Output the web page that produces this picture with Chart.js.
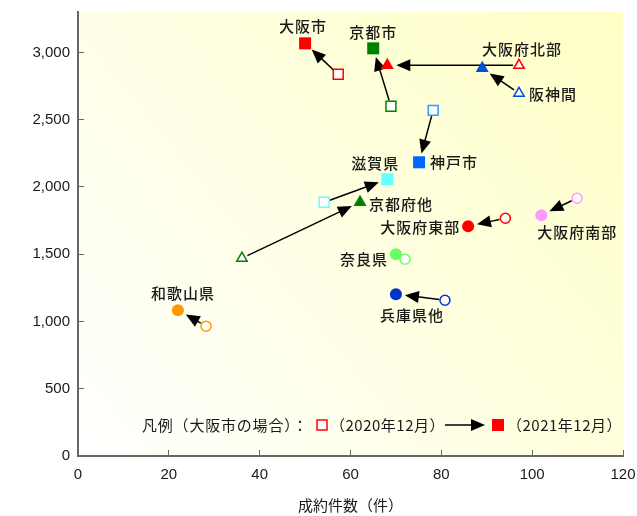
<!DOCTYPE html>
<html>
<head>
<meta charset="utf-8">
<script src="https://cdn.jsdelivr.net/npm/chart.js@4/dist/chart.umd.min.js"></script>
<style>
html, body { margin: 0; padding: 0; background: #fff; }
#wrap { width: 637px; height: 516px; }
</style>
</head>
<body>
<div id="wrap"><canvas id="c"></canvas></div>
<script>
// data
var areas = ['大阪市', '京都市', '大阪府北部', '阪神間', '神戸市', '滋賀県', '京都府他', '大阪府東部', '大阪府南部', '奈良県', '兵庫県他', '和歌山県'];
var x2020 = [57.3, 68.9, 97.1, 97.1, 78.2, 54.2, 36.1, 94.1, 109.9, 72.0, 80.8, 28.2];
var y2020 = [2837, 2599, 2904, 2696, 2569, 1886, 1470, 1767, 1916, 1463, 1158, 965];
var x2021 = [50.0, 65.0, 68.1, 89.0, 75.1, 68.1, 62.1, 85.9, 102.0, 70.0, 70.0, 22.0];
var y2021 = [3067, 3030, 2904, 2881, 2183, 2057, 1886, 1708, 1790, 1500, 1203, 1084];
var xTicks = [0, 20, 40, 60, 80, 100, 120];
var yTicks = [0, 500, 1000, 1500, 2000, 2500, 3000];

// styles
var shapes = ['rect', 'rect', 'triangle', 'triangle', 'rect', 'rect', 'triangle', 'circle', 'circle', 'circle', 'circle', 'circle'];
var fillColors = ['#ff0000', '#008000', '#ff0000', '#0050dc', '#0066ff', '#66ffff', '#008000', '#ff0000', '#ff99ff', '#66ff66', '#0033cc', '#ff9900'];
var openColors = ['#ff0000', '#008000', '#ff0000', '#0050dc', '#3399ff', '#66ffff', '#008000', '#ff0000', '#ff99ff', '#66ff66', '#0033cc', '#ff9900'];
// label placement: [which point (0=2020,1=2021), dx, dy, align]
var labelPos = [
    [1, -2, -17, 'center'],
    [1, 0, -16, 'center'],
    [0, 3, -16, 'center'],
    [0, 10, 1, 'left'],
    [1, 11, 0, 'left'],
    [1, -12, -16, 'center'],
    [1, 9, 2, 'left'],
    [1, -8, 1, 'right'],
    [1, -4, 17, 'left'],
    [1, -8, 5, 'right'],
    [1, 16, 21, 'center'],
    [1, 5, -17, 'center']
];

var jpFont = '"Noto Sans CJK JP", "Noto Sans", sans-serif';

function radiusFor(shape, filled) {
    if (shape == 'rect') return filled ? 8.5 : 7;
    if (shape == 'triangle') return filled ? 7.5 : 6;
    return filled ? 6 : 5;
}

function pts(xs, ys) {
    let out = [];
    for (let i = 0; i < xs.length; i++) out.push({ x: xs[i], y: ys[i] });
    return out;
}

function drawArrow(ctx, x0, y0, x1, y1, gap0, gap1) {
    let dx = x1 - x0, dy = y1 - y0;
    let len = Math.sqrt(dx * dx + dy * dy);
    let ux = dx / len, uy = dy / len;
    let sx = x0 + ux * gap0, sy = y0 + uy * gap0;
    let tx = x1 - ux * gap1, ty = y1 - uy * gap1;
    let hl = 14, hw = 6;
    let bx = tx - ux * hl, by = ty - uy * hl;
    ctx.beginPath();
    ctx.moveTo(sx, sy);
    ctx.lineTo(bx + ux, by + uy);
    ctx.stroke();
    ctx.beginPath();
    ctx.moveTo(tx, ty);
    ctx.lineTo(bx - uy * hw, by + ux * hw);
    ctx.lineTo(bx + uy * hw, by - ux * hw);
    ctx.closePath();
    ctx.fill();
}

var bgPlugin = {
    id: 'bg',
    beforeDraw: function(chart) {
        let a = chart.chartArea, ctx = chart.ctx;
        let g = ctx.createLinearGradient(a.left, a.bottom, a.right, a.top);
        g.addColorStop(0, '#ffffff');
        g.addColorStop(1, '#ffffc6');
        ctx.save();
        ctx.fillStyle = g;
        ctx.fillRect(a.left, a.top, a.right - a.left, a.bottom - a.top);
        ctx.restore();
    }
};

var arrowPlugin = {
    id: 'arrows',
    beforeDatasetsDraw: function(chart) {
        let ctx = chart.ctx, xs = chart.scales.x, ys = chart.scales.y;
        ctx.save();
        ctx.strokeStyle = '#000';
        ctx.fillStyle = '#000';
        ctx.lineWidth = 1.5;
        for (let i = 0; i < areas.length; i++) {
            let x0 = xs.getPixelForValue(x2020[i]), y0 = ys.getPixelForValue(y2020[i]);
            let x1 = xs.getPixelForValue(x2021[i]), y1 = ys.getPixelForValue(y2021[i]);
            // points too close together get no arrow
            if (Math.hypot(x1 - x0, y1 - y0) < 25) continue;
            drawArrow(ctx, x0, y0, x1, y1, 6, 9);
        }
        ctx.restore();
    }
};

var labelPlugin = {
    id: 'labels',
    afterDatasetsDraw: function(chart) {
        let ctx = chart.ctx, xs = chart.scales.x, ys = chart.scales.y;
        ctx.save();
        ctx.font = '500 15px ' + jpFont;
        ctx.letterSpacing = '1px';
        ctx.fillStyle = '#1a1a1a';
        ctx.textBaseline = 'middle';
        for (let i = 0; i < areas.length; i++) {
            let lp = labelPos[i];
            let px = lp[0] ? xs.getPixelForValue(x2021[i]) : xs.getPixelForValue(x2020[i]);
            let py = lp[0] ? ys.getPixelForValue(y2021[i]) : ys.getPixelForValue(y2020[i]);
            ctx.textAlign = lp[3];
            ctx.fillText(areas[i], px + lp[1], py + lp[2]);
        }

        // legend line
        let ly = 425;
        ctx.textAlign = 'left';
        ctx.letterSpacing = '0.8px';
        ctx.font = '15px ' + jpFont;
        ctx.fillText('凡例（大阪市の場合）：', 142, ly);
        ctx.fillStyle = '#fff';
        ctx.strokeStyle = '#ff0000';
        ctx.lineWidth = 1.5;
        ctx.fillRect(317, ly - 5, 10, 10);
        ctx.strokeRect(317, ly - 5, 10, 10);
        ctx.fillStyle = '#1a1a1a';
        ctx.letterSpacing = '0.5px';
        ctx.fillText('（2020年12月）', 330, ly);
        ctx.strokeStyle = '#000';
        ctx.fillStyle = '#000';
        drawArrow(ctx, 445, ly, 485, ly, 0, 0);
        ctx.fillStyle = '#ff0000';
        ctx.fillRect(492, ly - 6, 12, 12);
        ctx.fillStyle = '#1a1a1a';
        ctx.fillText('（2021年12月）', 507, ly);
        ctx.restore();
    }
};

var ctx = document.getElementById('c').getContext('2d');
var chart = new Chart(ctx, {
    type: 'scatter',
    data: {
        datasets: [{
            label: '2020年12月',
            data: pts(x2020, y2020),
            pointStyle: shapes,
            pointRadius: shapes.map(s => radiusFor(s, false)),
            pointBackgroundColor: '#ffffff',
            pointBorderColor: openColors,
            pointBorderWidth: 1.5
        }, {
            label: '2021年12月',
            data: pts(x2021, y2021),
            pointStyle: shapes,
            pointRadius: shapes.map(s => radiusFor(s, true)),
            pointBackgroundColor: fillColors,
            pointBorderColor: fillColors,
            pointBorderWidth: 0
        }]
    },
    options: {
        responsive: true,
        maintainAspectRatio: false,
        animation: false,
        events: [],
        layout: { padding: { top: 12, right: 14, left: 0, bottom: 0 } },
        plugins: { legend: { display: false }, tooltip: { enabled: false } },
        scales: {
            x: {
                type: 'linear',
                min: 0, max: 120,
                afterBuildTicks: function(s) { s.ticks = xTicks.map(v => ({ value: v })); },
                afterFit: function(s) { s.height = 60; s.paddingLeft = 0; s.paddingRight = 0; },
                grid: { drawOnChartArea: false, drawTicks: true, tickLength: -6, color: '#666', lineWidth: 1 },
                border: { display: true, color: '#666', width: 2 },
                ticks: { color: '#1a1a1a', font: { size: 15, family: '"Liberation Sans", Arial, sans-serif' }, padding: 16, maxRotation: 0 },
                title: { display: true, text: '成約件数（件）', color: '#1a1a1a', font: { size: 15, family: jpFont }, padding: { top: 0, bottom: 2 } }
            },
            y: {
                type: 'linear',
                min: 0, max: 3300,
                afterBuildTicks: function(s) { s.ticks = yTicks.map(v => ({ value: v })); },
                afterFit: function(s) { s.width = 78; s.paddingTop = 0; s.paddingBottom = 0; },
                grid: { drawOnChartArea: false, drawTicks: true, tickLength: -6, color: '#666', lineWidth: 1 },
                border: { display: true, color: '#666', width: 2 },
                ticks: {
                    color: '#1a1a1a',
                    font: { size: 15, family: '"Liberation Sans", Arial, sans-serif' },
                    padding: 14,
                    callback: function(v) { return v.toLocaleString('en-US'); }
                }
            }
        }
    },
    plugins: [bgPlugin, arrowPlugin, labelPlugin]
});
</script>
</body>
</html>
